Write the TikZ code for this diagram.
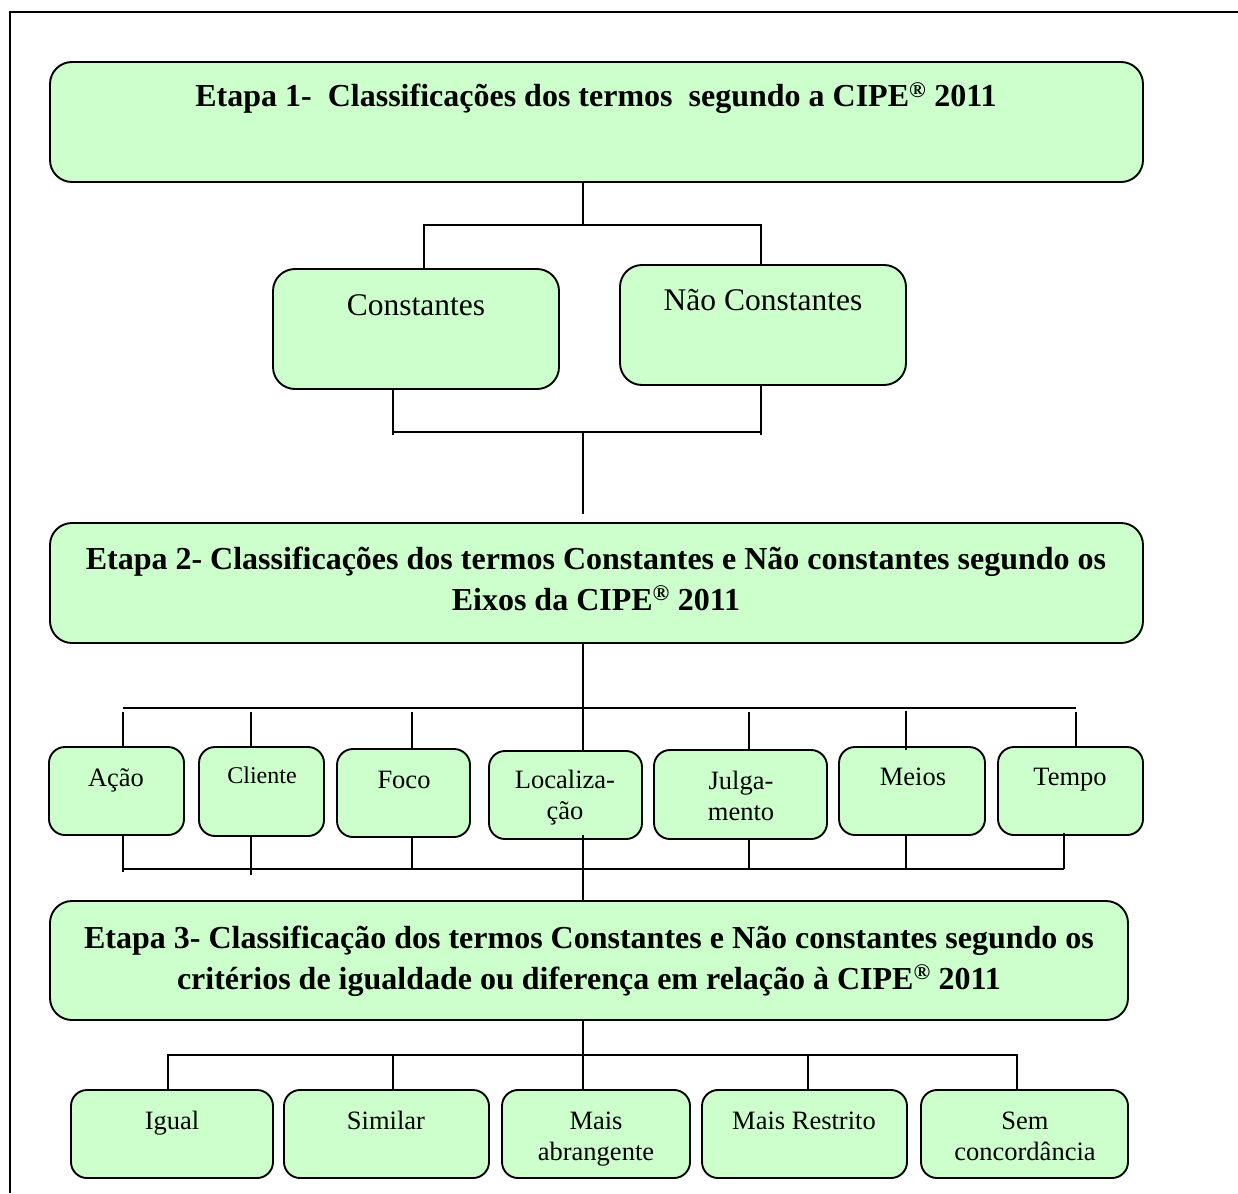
\documentclass[tikz,border=0pt]{standalone}
\usepackage{fontspec}
\setmainfont{Liberation Serif}
\definecolor{boxgreen}{HTML}{CCFFCC}
\begin{document}
\begin{tikzpicture}[x=1pt,y=-1pt,
  box/.style={draw, line width=1.9pt, fill=boxgreen, inner sep=0pt},
  bigbox/.style={box, rounded corners=22pt},
  smallbox/.style={box, rounded corners=16pt},
  conn/.style={line width=1.5pt},
  frame/.style={line width=2.5pt},
  title/.style={font=\fontsize{32}{41}\selectfont\bfseries, align=center, inner sep=0pt, anchor=base},
  big/.style={font=\fontsize{31.5}{38}\selectfont, inner sep=0pt, anchor=base},
  small/.style={font=\fontsize{26.5}{31}\selectfont, align=center, inner sep=0pt, anchor=base}]
\useasboundingbox (0,0) rectangle (1238,1193);
\draw[frame] (10,1193) -- (10,12) -- (1238,12);

% stage 1
\node[bigbox, minimum width=1093pt, minimum height=120pt] (b1) at (596.5,122) {};
\node[title] (b1t) at (596,107) {Etapa 1-\ \ Classificações dos termos\ \ segundo a CIPE\textsuperscript{®} 2011};

\node[bigbox, minimum width=286pt, minimum height=120pt] (cons) at (416,329) {};
\node[big] (const) at (416,315) {Constantes};
\node[bigbox, minimum width=286pt, minimum height=120pt] (ncons) at (763,325) {};
\node[big] (nconst) at (763,310) {Não Constantes};

% stage 2 (base anchor = last line of a multi-line node)
\node[bigbox, minimum width=1093pt, minimum height=120pt] (b2) at (596.5,583) {};
\node[title] (b2t) at (596,610) {Etapa 2- Classificações dos termos Constantes e Não constantes segundo os\\Eixos da CIPE\textsuperscript{®} 2011};

\node[smallbox, minimum width=135pt, minimum height=88pt] (acao) at (116.5,791) {};
\node[small] (acaot) at (116,786) {Ação};
\node[smallbox, minimum width=125pt, minimum height=89pt] (cli) at (261.5,791.5) {};
\node[small, font=\fontsize{24}{29}\selectfont] (clit) at (262,783) {Cliente};
\node[smallbox, minimum width=133pt, minimum height=88pt] (foco) at (403.5,793) {};
\node[small] (focot) at (404,788) {Foco};
\node[smallbox, minimum width=153pt, minimum height=88pt] (loc) at (565.5,795) {};
\node[small] (loct) at (565,819) {Localiza-\\ção};
\node[smallbox, minimum width=173pt, minimum height=89pt] (jul) at (740.5,794.5) {};
\node[small] (jult) at (741,820) {Julga-\\mento};
\node[smallbox, minimum width=146pt, minimum height=88pt] (meios) at (912,791) {};
\node[small] (meiost) at (913,785) {Meios};
\node[smallbox, minimum width=145pt, minimum height=88pt] (tempo) at (1070.5,791) {};
\node[small] (tempot) at (1070,785) {Tempo};

% stage 3
\node[bigbox, minimum width=1078pt, minimum height=119pt] (b3) at (589,960.5) {};
\node[title] (b3t) at (589,989) {Etapa 3- Classificação dos termos Constantes e Não constantes segundo os\\critérios de igualdade ou diferença em relação à CIPE\textsuperscript{®} 2011};

\node[smallbox, minimum width=202pt, minimum height=88pt] (igual) at (172,1134) {};
\node[small] (igualt) at (172,1129) {Igual};
\node[smallbox, minimum width=205pt, minimum height=88pt] (sim) at (386.5,1134) {};
\node[small] (simt) at (386,1129) {Similar};
\node[smallbox, minimum width=188pt, minimum height=88pt] (abr) at (596,1134) {};
\node[small] (abrt) at (596,1160) {Mais\\abrangente};
\node[smallbox, minimum width=205pt, minimum height=88pt] (res) at (804.5,1134) {};
\node[small] (rest) at (804,1129) {Mais Restrito};
\node[smallbox, minimum width=207pt, minimum height=88pt] (sem) at (1024.5,1134) {};
\node[small] (semt) at (1025,1160) {Sem\\concordância};

% connector coordinates
\coordinate (t1) at (583,225);
\coordinate (t1L) at (424,225);
\coordinate (t1R) at (761,225);
\coordinate (m1L) at (393,432);
\coordinate (m1R) at (761,432);
\coordinate (m1) at (583,432);
\coordinate (m1e) at (583,514);
\coordinate (busA) at (123,708);
\coordinate (busB) at (1076,708);
\coordinate (busC) at (583,708);
\coordinate (lowA) at (123,869);
\coordinate (lowB) at (1064,869);
\coordinate (xAcao) at (123,712);
\coordinate (xCli) at (251,712);
\coordinate (xFoco) at (412,712);
\coordinate (xJul) at (749,712);
\coordinate (xMeios) at (906,711);
\coordinate (xTempo) at (1076,712);
\coordinate (yCli) at (251,869);
\coordinate (yFoco) at (412,869);
\coordinate (yJul) at (749,869);
\coordinate (yMeios) at (906,869);
\coordinate (yTempo) at (1064,869);
\coordinate (bot) at (583,1055);
\coordinate (botL) at (168,1055);
\coordinate (botR) at (1017,1055);
\coordinate (bS) at (393,1055);
\coordinate (bM) at (808,1055);

% stage 1 connectors
\draw[conn] (b1.south -| t1) -- (t1);
\draw[conn] (cons.north -| t1L) -- (t1L) -- (t1R) -- (ncons.north -| t1R);
\draw[conn] (cons.south -| m1L) -- ([yshift=-3pt]m1L);
\draw[conn] (ncons.south -| m1R) -- ([yshift=-3pt]m1R);
\draw[conn] (m1L) -- (m1R);
\draw[conn] (m1) -- (m1e);

% stage 2 connectors
\draw[conn] (b2.south -| busC) -- (loc.north -| busC);
\draw[conn] (busA) -- (busB);
\draw[conn] (xAcao) -- (acao.north -| xAcao);
\draw[conn] (xCli) -- (cli.north -| xCli);
\draw[conn] (xFoco) -- (foco.north -| xFoco);
\draw[conn] (xJul) -- (jul.north -| xJul);
\draw[conn] (xMeios) -- ([yshift=-4pt]meios.north -| xMeios);
\draw[conn] (xTempo) -- (tempo.north -| xTempo);

\draw[conn] (acao.south -| lowA) -- ([yshift=-3pt]lowA);
\draw[conn] (cli.south -| yCli) -- ([yshift=-6pt]yCli);
\draw[conn] (foco.south -| yFoco) -- (yFoco);
\draw[conn] (jul.south -| yJul) -- (yJul);
\draw[conn] (meios.south -| yMeios) -- (yMeios);
\draw[conn] ([yshift=3pt]tempo.south -| yTempo) -- (yTempo);
\draw[conn] (lowA) -- (lowB);
\draw[conn] ([yshift=5pt]loc.south -| busC) -- (b3.north -| busC);

% stage 3 connectors
\draw[conn] (b3.south -| bot) -- (bot);
\draw[conn] (igual.north -| botL) -- (botL) -- (botR) -- (sem.north -| botR);
\draw[conn] (bS) -- (sim.north -| bS);
\draw[conn] (bot) -- (abr.north -| bot);
\draw[conn] (bM) -- (res.north -| bM);
\end{tikzpicture}
\end{document}
